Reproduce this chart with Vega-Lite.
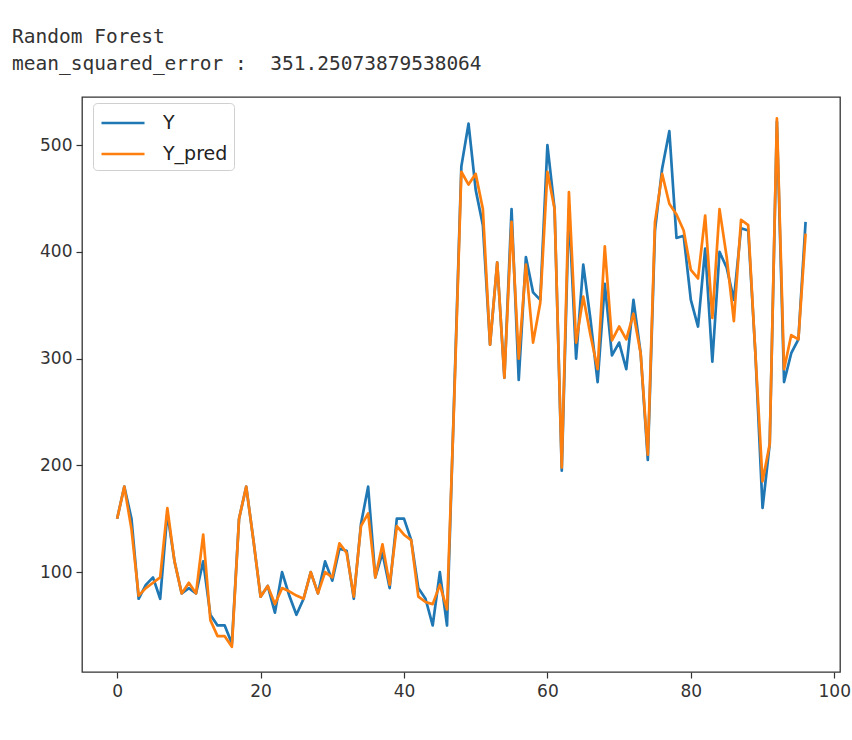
{
  "$schema": "https://vega.github.io/schema/vega-lite/v6.json",
  "autosize": "none",
  "width": 758,
  "height": 575,
  "padding": {"left": 82, "top": 97, "right": 12, "bottom": 68},
  "background": "white",
  "title": {
    "text": ["Random Forest", "mean_squared_error :\u00a0\u00a0351.25073879538064"],
    "anchor": "start",
    "frame": "group",
    "dx": -70,
    "offset": 23,
    "font": "DejaVu Sans Mono",
    "fontSize": 19.5,
    "fontWeight": "normal",
    "color": "#333333",
    "lineHeight": 27
  },
  "data": {
    "values": [
      {"i": 0, "Y": 150, "Y_pred": 150}, {"i": 1, "Y": 180, "Y_pred": 180}, {"i": 2, "Y": 150, "Y_pred": 140},
      {"i": 3, "Y": 75, "Y_pred": 78}, {"i": 4, "Y": 88, "Y_pred": 85}, {"i": 5, "Y": 95, "Y_pred": 90},
      {"i": 6, "Y": 75, "Y_pred": 95}, {"i": 7, "Y": 155, "Y_pred": 160}, {"i": 8, "Y": 110, "Y_pred": 110},
      {"i": 9, "Y": 80, "Y_pred": 80}, {"i": 10, "Y": 85, "Y_pred": 90}, {"i": 11, "Y": 80, "Y_pred": 80},
      {"i": 12, "Y": 110, "Y_pred": 135}, {"i": 13, "Y": 60, "Y_pred": 55}, {"i": 14, "Y": 50, "Y_pred": 40},
      {"i": 15, "Y": 50, "Y_pred": 40}, {"i": 16, "Y": 33, "Y_pred": 30}, {"i": 17, "Y": 150, "Y_pred": 150},
      {"i": 18, "Y": 180, "Y_pred": 180}, {"i": 19, "Y": 130, "Y_pred": 130}, {"i": 20, "Y": 77, "Y_pred": 77},
      {"i": 21, "Y": 87, "Y_pred": 87}, {"i": 22, "Y": 62, "Y_pred": 70}, {"i": 23, "Y": 100, "Y_pred": 85},
      {"i": 24, "Y": 78, "Y_pred": 82}, {"i": 25, "Y": 60, "Y_pred": 78}, {"i": 26, "Y": 75, "Y_pred": 75},
      {"i": 27, "Y": 100, "Y_pred": 100}, {"i": 28, "Y": 80, "Y_pred": 80}, {"i": 29, "Y": 110, "Y_pred": 100},
      {"i": 30, "Y": 92, "Y_pred": 95}, {"i": 31, "Y": 122, "Y_pred": 127}, {"i": 32, "Y": 120, "Y_pred": 118},
      {"i": 33, "Y": 75, "Y_pred": 77}, {"i": 34, "Y": 145, "Y_pred": 143}, {"i": 35, "Y": 180, "Y_pred": 155},
      {"i": 36, "Y": 95, "Y_pred": 95}, {"i": 37, "Y": 118, "Y_pred": 126}, {"i": 38, "Y": 85, "Y_pred": 88},
      {"i": 39, "Y": 150, "Y_pred": 143}, {"i": 40, "Y": 150, "Y_pred": 135}, {"i": 41, "Y": 130, "Y_pred": 130},
      {"i": 42, "Y": 85, "Y_pred": 77}, {"i": 43, "Y": 75, "Y_pred": 72}, {"i": 44, "Y": 50, "Y_pred": 70},
      {"i": 45, "Y": 100, "Y_pred": 88}, {"i": 46, "Y": 50, "Y_pred": 65}, {"i": 47, "Y": 265, "Y_pred": 260},
      {"i": 48, "Y": 480, "Y_pred": 475}, {"i": 49, "Y": 520, "Y_pred": 463}, {"i": 50, "Y": 458, "Y_pred": 473},
      {"i": 51, "Y": 425, "Y_pred": 440}, {"i": 52, "Y": 313, "Y_pred": 313}, {"i": 53, "Y": 390, "Y_pred": 390},
      {"i": 54, "Y": 282, "Y_pred": 282}, {"i": 55, "Y": 440, "Y_pred": 428}, {"i": 56, "Y": 280, "Y_pred": 300},
      {"i": 57, "Y": 395, "Y_pred": 388}, {"i": 58, "Y": 362, "Y_pred": 315}, {"i": 59, "Y": 355, "Y_pred": 352},
      {"i": 60, "Y": 500, "Y_pred": 475}, {"i": 61, "Y": 440, "Y_pred": 440}, {"i": 62, "Y": 195, "Y_pred": 198},
      {"i": 63, "Y": 440, "Y_pred": 456}, {"i": 64, "Y": 300, "Y_pred": 315}, {"i": 65, "Y": 388, "Y_pred": 358},
      {"i": 66, "Y": 337, "Y_pred": 322}, {"i": 67, "Y": 278, "Y_pred": 290}, {"i": 68, "Y": 370, "Y_pred": 405},
      {"i": 69, "Y": 303, "Y_pred": 317}, {"i": 70, "Y": 315, "Y_pred": 330}, {"i": 71, "Y": 290, "Y_pred": 318},
      {"i": 72, "Y": 355, "Y_pred": 342}, {"i": 73, "Y": 305, "Y_pred": 305}, {"i": 74, "Y": 205, "Y_pred": 210},
      {"i": 75, "Y": 420, "Y_pred": 428}, {"i": 76, "Y": 478, "Y_pred": 473}, {"i": 77, "Y": 513, "Y_pred": 445},
      {"i": 78, "Y": 413, "Y_pred": 435}, {"i": 79, "Y": 415, "Y_pred": 420}, {"i": 80, "Y": 355, "Y_pred": 383},
      {"i": 81, "Y": 330, "Y_pred": 375}, {"i": 82, "Y": 403, "Y_pred": 434}, {"i": 83, "Y": 297, "Y_pred": 338},
      {"i": 84, "Y": 400, "Y_pred": 440}, {"i": 85, "Y": 385, "Y_pred": 395}, {"i": 86, "Y": 355, "Y_pred": 335},
      {"i": 87, "Y": 422, "Y_pred": 430}, {"i": 88, "Y": 420, "Y_pred": 425}, {"i": 89, "Y": 305, "Y_pred": 305},
      {"i": 90, "Y": 160, "Y_pred": 185}, {"i": 91, "Y": 220, "Y_pred": 220}, {"i": 92, "Y": 522, "Y_pred": 525},
      {"i": 93, "Y": 278, "Y_pred": 290}, {"i": 94, "Y": 305, "Y_pred": 322}, {"i": 95, "Y": 318, "Y_pred": 318},
      {"i": 96, "Y": 428, "Y_pred": 417}
    ]
  },
  "transform": [{"fold": ["Y", "Y_pred"], "as": ["series", "value"]}],
  "mark": {"type": "line", "strokeWidth": 2.7, "strokeJoin": "round", "clip": true},
  "encoding": {
    "x": {
      "field": "i",
      "type": "quantitative",
      "scale": {"domain": [-4.9, 100.8], "nice": false, "zero": false},
      "axis": {"values": [0, 20, 40, 60, 80, 100], "title": null, "grid": false, "domain": false,
               "tickColor": "#333333", "tickSize": 6, "tickWidth": 1.2, "labelFont": "DejaVu Sans",
               "labelFontSize": 17, "labelColor": "#333333", "labelPadding": 5}
    },
    "y": {
      "field": "value",
      "type": "quantitative",
      "scale": {"domain": [6.4, 545], "nice": false, "zero": false},
      "axis": {"values": [100, 200, 300, 400, 500], "title": null, "grid": false, "domain": false,
               "tickColor": "#333333", "tickSize": 6, "tickWidth": 1.2, "labelFont": "DejaVu Sans",
               "labelFontSize": 17, "labelColor": "#333333", "labelPadding": 4}
    },
    "color": {
      "field": "series",
      "type": "nominal",
      "scale": {"domain": ["Y", "Y_pred"], "range": ["#1f77b4", "#ff7f0e"]},
      "legend": {
        "orient": "none", "legendX": 11, "legendY": 6, "title": null,
        "symbolType": "M-0.92,0H2.52", "symbolSize": 625, "symbolStrokeWidth": 2.7,
        "labelFont": "DejaVu Sans", "labelFontSize": 19, "labelColor": "#222222",
        "labelOffset": 36, "padding": 6, "rowPadding": 7,
        "strokeColor": "#d0d0d0", "fillColor": "white", "cornerRadius": 4
      }
    }
  },
  "config": {
    "view": {"stroke": "#333333", "strokeWidth": 1.3}
  }
}
